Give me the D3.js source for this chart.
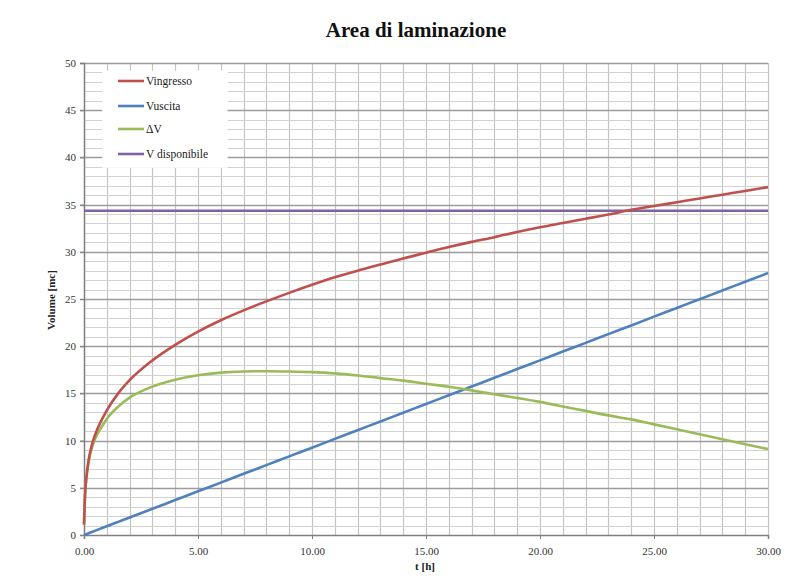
<!DOCTYPE html>
<html><head><meta charset="utf-8">
<script src="https://cdn.jsdelivr.net/npm/d3@7"></script>
<style>body{margin:0;background:#fff}svg{display:block}text{font-family:'Liberation Serif','Times New Roman',serif}</style>
</head><body><div id="chart"></div>
<script>
const tHours = [0,0.05,0.1,0.2,0.4,0.6,0.8,1,1.5,2,3,4,5,6,7,8,9,10,11,12,13,14,15,16,17,18,19,20,21,22,23,24,25,26,27,28,29,30];
const vIngresso = [1.1,4.5,6.0,7.9,10.0,11.3,12.3,13.2,15.0,16.4,18.5,20.15,21.55,22.75,23.8,24.75,25.65,26.5,27.3,28.0,28.65,29.3,29.9,30.5,31.05,31.55,32.1,32.6,33.05,33.5,33.95,34.45,34.85,35.25,35.65,36.05,36.45,36.85];
const vUscita = [0,0.05,0.09,0.19,0.37,0.56,0.74,0.93,1.39,1.85,2.78,3.7,4.63,5.55,6.48,7.4,8.33,9.25,10.18,11.1,12.03,12.95,13.88,14.8,15.73,16.65,17.58,18.5,19.43,20.35,21.28,22.2,23.13,24.05,24.98,25.9,26.83,27.75];
const deltaV = [1.1,4.45,5.9,7.7,9.65,10.75,11.55,12.3,13.6,14.55,15.72,16.45,16.92,17.2,17.32,17.35,17.32,17.25,17.12,16.9,16.62,16.35,16.02,15.7,15.32,14.9,14.52,14.1,13.62,13.15,12.67,12.25,11.72,11.2,10.67,10.15,9.62,9.1];
const vDisponibile = [34.35,34.35];
const tDisponibile = [0,30];
const seriesNames = ["Vingresso","Vuscita","\u0394V","V disponibile"];
const seriesColors = ["#C0504D","#4F81BD","#9BBB59","#8064A2"];
const xTicks = [0,5,10,15,20,25,30];
const yTicks = [0,5,10,15,20,25,30,35,40,45,50];

const W=810,H=585;
const m={l:84,r:42,t:63,b:50};
const svg=d3.select("#chart").append("svg").attr("width",W).attr("height",H);
svg.append("rect").attr("width",W).attr("height",H).attr("fill","#fff");
const x=d3.scaleLinear().domain([0,30]).range([m.l,W-m.r]);
const y=d3.scaleLinear().domain([0,50]).range([H-m.b,m.t]);
const font="'Liberation Serif','Times New Roman',serif";

const g=svg.append("g");
g.selectAll(".vg").data(d3.range(1,31)).enter().append("line")
 .attr("x1",d=>Math.round(x(d))+0.5).attr("x2",d=>Math.round(x(d))+0.5)
 .attr("y1",y(50)).attr("y2",y(0)).attr("stroke","#c4c4c4").attr("stroke-width",1.2);
g.selectAll(".hm").data(d3.range(1,51).filter(d=>d%5!==0)).enter().append("line")
 .attr("x1",x(0)).attr("x2",x(30)).attr("y1",d=>Math.round(y(d))+0.5).attr("y2",d=>Math.round(y(d))+0.5)
 .attr("stroke","#d2d2d2").attr("stroke-width",1.2);
g.selectAll(".hM").data(yTicks.filter(d=>d>0)).enter().append("line")
 .attr("x1",x(0)-4).attr("x2",x(30)).attr("y1",d=>Math.round(y(d))+0.5).attr("y2",d=>Math.round(y(d))+0.5)
 .attr("stroke","#9c9c9c").attr("stroke-width",1.6);

const lg=svg.append("g");
lg.append("rect").attr("x",x(0.8)).attr("y",y(49.2)).attr("width",x(6.3)-x(0.8)).attr("height",y(38.9)-y(49.2)).attr("fill","#fff");

const xAxis=d3.axisBottom(x).tickValues(xTicks).tickFormat(d3.format(".2f")).tickSize(4).tickPadding(8);
const yAxis=d3.axisLeft(y).tickValues(yTicks).tickSize(4).tickPadding(4);
const ax=svg.append("g").attr("transform",`translate(0,${y(0)})`).call(xAxis);
const ay=svg.append("g").attr("transform",`translate(${x(0)},0)`).call(yAxis);
[ax,ay].forEach(a=>{a.attr("font-family",font).attr("font-size",11);
 a.select(".domain").attr("stroke","#7f7f7f").attr("stroke-width",1.5);
 a.selectAll(".tick line").attr("stroke","#7f7f7f");
 a.selectAll("text").style("font-family",font).attr("fill","#333");});

const line=d3.line().x(d=>x(d[0])).y(d=>y(d[1])).curve(d3.curveMonotoneX);
const data=[d3.zip(tHours,vIngresso),d3.zip(tHours,vUscita),d3.zip(tHours,deltaV),d3.zip(tDisponibile,vDisponibile)];
[3,1,2,0].forEach(i=>{
 svg.append("path").datum(data[i]).attr("d",line).attr("fill","none")
  .attr("stroke",seriesColors[i]).attr("stroke-width",2.6).attr("stroke-linejoin","round");
});

const legY=[81,106,129,154];
seriesNames.forEach((n,i)=>{
 lg.append("line").attr("x1",118).attr("x2",144).attr("y1",legY[i]).attr("y2",legY[i])
  .attr("stroke",seriesColors[i]).attr("stroke-width",2.6);
 lg.append("text").attr("x",146).attr("y",legY[i]+4).text(n)
  .style("font-family",font).attr("font-size",11.5).attr("fill","#222");
});

svg.append("text").attr("x",416).attr("y",37).attr("text-anchor","middle")
 .style("font-family",font).attr("font-weight","bold").attr("font-size",21).attr("fill","#111")
 .text("Area di laminazione");
svg.append("text").attr("transform","translate(55,300) rotate(-90)").attr("text-anchor","middle")
 .style("font-family",font).attr("font-weight","bold").attr("font-size",11).attr("fill","#222")
 .text("Volume [mc]");
svg.append("text").attr("x",425).attr("y",570).attr("text-anchor","middle")
 .style("font-family",font).attr("font-weight","bold").attr("font-size",11).attr("fill","#222")
 .text("t [h]");
</script></body></html>
